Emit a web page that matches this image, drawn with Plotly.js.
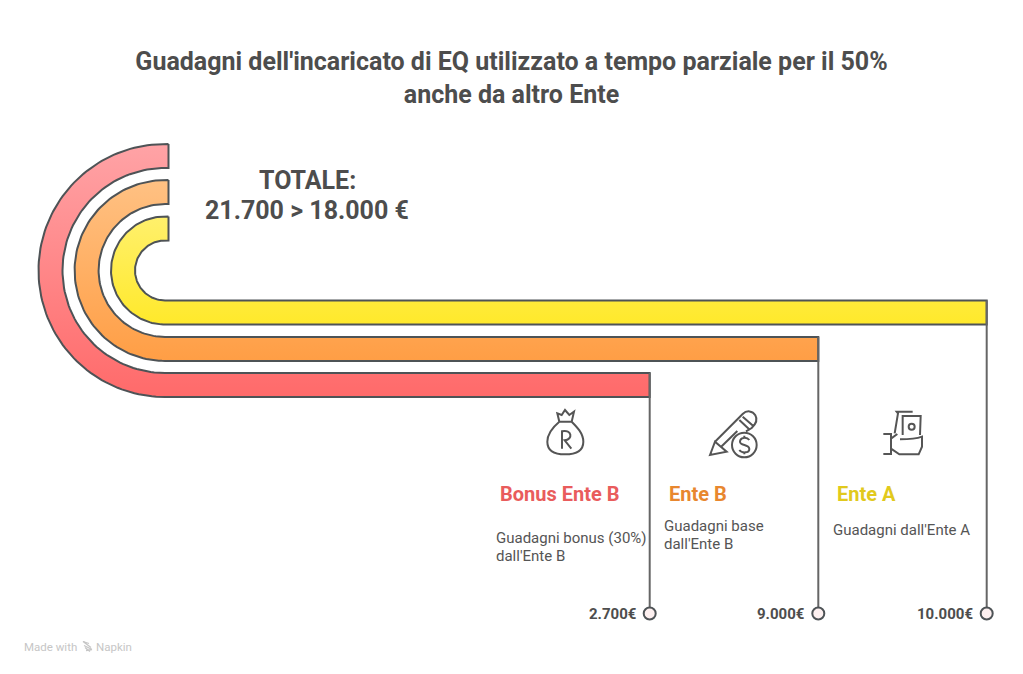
<!DOCTYPE html>
<html><head><meta charset="utf-8">
<script src="https://cdn.plot.ly/plotly-3.0.1.min.js"></script>
<style>html,body{margin:0;padding:0;background:#fff;overflow:hidden}#c{width:1023px;height:674px}</style>
</head><body><div id="c"></div>
<script>
// ---- data ----
const categories   = ['Ente A', 'Ente B', 'Bonus Ente B'];
const values       = [10000, 9000, 2700];
const limit        = [18000];
const descriptions = [["Guadagni dall'Ente A"], ["Guadagni base", "dall'Ente B"], ["Guadagni bonus (30%)", "dall'Ente B"]];
const titleText    = "Guadagni dell'incaricato di EQ utilizzato a tempo parziale per il 50%<br>anche da altro Ente";
const totalLabel   = 'TOTALE:';
const footerLeft   = 'Made with';
const footerRight  = 'Napkin';

// ---- styles and layout constants (pixel-unit axes) ----
const topColors    = ['#fff06c', '#ffc183', '#ffa3a6'];
const bottomColors = ['#ffe92b', '#ff9e45', '#ff6a6a'];
const headColors   = ['#e1c91d', '#e8872f', '#e95c5c'];
const ink = '#4e5356', stem = '#666666', textInk = '#4d4d4d';
const CX = 165, CY = 270.5, TOP_END_X = 168.5;
const outerR = [54, 90.4, 126.5], bandW = 24;
const barEnd = [986.7, 818.3, 649.7];
const markerY = 613.5;
const headX = [837, 669, 500], headY = 494;
const descX = [833, 664, 496], descY = [529.5, 526, 538], descLead = 18;

const fmt = v => String(v).replace(/\B(?=(\d{3})+$)/g, '.');

function bandPath(i) {
  const R = outerR[i], r = R - bandW, xs = [], ys = [], N = 90;
  xs.push(TOP_END_X); ys.push(CY - R);
  for (let k = 0; k <= N; k++) { const a = -Math.PI/2 - Math.PI*k/N; xs.push(CX + R*Math.cos(a)); ys.push(CY + R*Math.sin(a)); }
  xs.push(barEnd[i]); ys.push(CY + R);
  xs.push(barEnd[i]); ys.push(CY + r);
  for (let k = 0; k <= N; k++) { const a = Math.PI/2 + Math.PI*k/N; xs.push(CX + r*Math.cos(a)); ys.push(CY + r*Math.sin(a)); }
  xs.push(TOP_END_X); ys.push(CY - r);
  xs.push(TOP_END_X); ys.push(CY - R);
  return {xs, ys};
}

const traces = [];
categories.slice().map((c, i) => i).reverse().forEach(i => {
  const p = bandPath(i);
  traces.push({type:'scatter', mode:'lines', name:categories[i], x:p.xs, y:p.ys, fill:'toself',
    fillgradient:{type:'vertical', colorscale:[[0, bottomColors[i]], [1, topColors[i]]]},
    line:{color:ink, width:2, shape:'linear'}, hoverinfo:'skip', showlegend:false});
  traces.push({type:'scatter', mode:'lines', x:[barEnd[i], barEnd[i]], y:[CY + outerR[i] - bandW, markerY],
    line:{color:stem, width:2}, hoverinfo:'skip', showlegend:false});
});
traces.push({type:'scatter', mode:'markers', x:barEnd, y:barEnd.map(() => markerY), customdata:values,
  marker:{size:12, color:'#fdf0f0', line:{color:ink, width:2}}, hoverinfo:'skip', showlegend:false});

const ann = (text, x, y, size, color, bold, anchor) => ({
  text: bold ? '<b>' + text + '</b>' : text, x, y, xref:'x', yref:'y', xanchor:anchor, yanchor:'middle', showarrow:false,
  align: anchor === 'center' ? 'center' : (anchor === 'right' ? 'right' : 'left'),
  font:{family:'Roboto, sans-serif', size, color}, borderpad:0, borderwidth:0});

const total = values.reduce((a, b) => a + b, 0);
const annotations = [
  ann(totalLabel, 307, 180, 25, textInk, true, 'center'),
  ann(fmt(total) + ' > ' + fmt(limit[0]) + ' €', 307, 210, 25, textInk, true, 'center'),
  ann(footerLeft, 24, 646.5, 11.5, '#c6c6c6', false, 'left'),
  ann(footerRight, 96, 646.5, 11.5, '#c6c6c6', false, 'left')
];
categories.forEach((c, i) => {
  annotations.push(ann(c, headX[i], headY, 20, headColors[i], true, 'left'));
  descriptions[i].forEach((line, j) => annotations.push(ann(line, descX[i], descY[i] + j*descLead, 15, '#555555', false, 'left')));
  annotations.push(ann(fmt(values[i]) + '€', barEnd[i] - 14, markerY, 15, textInk, true, 'right'));
});

// ---- line icons, written in local 3x crop units ----
function place(d, ox, oy, k) {
  return d.replace(/(-?[\d.]+)[ ,](-?[\d.]+)/g, (m, a, b) => (ox + a*k).toFixed(2) + ' ' + (oy + b*k).toFixed(2));
}
function circ(x, y, r) {
  const c = r*0.5523;
  return `M${x-r} ${y} C${x-r} ${y-c} ${x-c} ${y-r} ${x} ${y-r} C${x+c} ${y-r} ${x+r} ${y-c} ${x+r} ${y} C${x+r} ${y+c} ${x+c} ${y+r} ${x} ${y+r} C${x-c} ${y+r} ${x-r} ${y+c} ${x-r} ${y} `;
}
const bag = 'M88 65 L82 40 L95 45 L105 30 L118 45 L132 35 L125 65 Z M88 65 C70 80 52 100 52 125 C52 155 75 163 105 163 C140 163 160 150 160 125 C160 100 140 80 125 65 M96 146 L96 94 C126 88 130 118 104 121 L124 146';
const pen = 'M30 165 L45 125 L80 155 Z M45 125 L128 42 C140 30 158 32 166 46 C174 60 168 72 155 84 L138 94 M62 142 L112 93 M118 60 L150 90 M128 50 L160 78 ' + circ(133,135,37) + 'M148 120 C140 110 120 112 120 125 C120 138 148 132 148 147 C148 160 125 160 118 150 M133 107 L133 114 M133 156 L133 163';
const hand = 'M128 35 L80 35 L84 40 L74 100 M98 105 L98 48 L152 48 L150 105 ' + circ(125,80,9) + 'M40 102 L63 102 L63 162 L40 162 M63 116 L82 102 M90 118 C120 118 140 116 156 110 L156 140 L146 163 L88 163 L63 146';
const logo = 'M0 0 L6 2 M0 0 L8 6 M1 4 L9 8 M3 9 L9 8 M2 6 L7 10';

const shapes = [
  {d:hand, ox:870, oy:400, k:1/3},
  {d:pen,  ox:700, oy:400, k:1/3},
  {d:bag,  ox:530, oy:400, k:1/3}
].map(s => ({type:'path', xref:'x', yref:'y', path:place(s.d, s.ox, s.oy, s.k), line:{color:'#555555', width:2}, fillcolor:'rgba(0,0,0,0)'}));
shapes.push({type:'path', xref:'x', yref:'y', path:place(logo, 83, 641.5, 1), line:{color:'#c6c6c6', width:1.3}, fillcolor:'rgba(0,0,0,0)'});

const hidden = {visible:false, fixedrange:true, showgrid:false, zeroline:false};
const layout = {
  width:1023, height:674, margin:{l:0, r:0, t:0, b:0}, paper_bgcolor:'#ffffff', plot_bgcolor:'#ffffff', showlegend:false,
  title:{text:'<b>' + titleText + '</b>', x:0.5, xanchor:'center', xref:'paper', y:1 - 70/674, yref:'paper', yanchor:'middle',
    font:{family:'Roboto, sans-serif', size:25, color:textInk}},
  xaxis:Object.assign({range:[0, 1023]}, hidden),
  yaxis:Object.assign({range:[674, 0]}, hidden),
  shapes, annotations, hovermode:false
};
Plotly.newPlot('c', traces, layout, {displayModeBar:false, staticPlot:true});
</script></body></html>
